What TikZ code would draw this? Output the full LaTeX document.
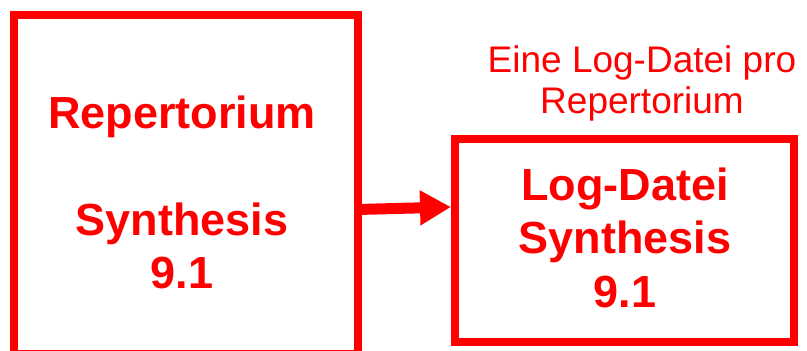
\documentclass[tikz,border=0pt]{standalone}
\usepackage{fontspec}
\setmainfont{Liberation Sans}
\usetikzlibrary{arrows.meta}
\definecolor{pured}{RGB}{255,0,0}
\begin{document}
\begin{tikzpicture}[x=1pt,y=-1pt,
  frame/.style={draw=pured, line width=8pt, inner sep=0pt, outer sep=0pt, rectangle},
  bigtext/.style={text=pured, font=\fontsize{45}{53.3}\selectfont\bfseries, align=center, anchor=base, inner sep=0pt},
  labeltext/.style={text=pured, font=\fontsize{37}{41}\selectfont, align=center, anchor=base, inner sep=0pt},
  conn/.style={draw=pured, line width=11pt, -{Triangle[length=31pt,width=33pt]}}]
\useasboundingbox (0,0) rectangle (807,351);
\node[frame, minimum width=344pt, minimum height=339pt] (lbox) at (186,184.5) {};
\node[frame, minimum width=339pt, minimum height=203pt] (rbox) at (624.5,240.5) {};
\node[bigtext] (ltext) at (182,288.3) {Repertorium\\\mbox{}\\Synthesis\\9.1};
\node[bigtext] (rtext) at (625,307) {Log-Datei\\Synthesis\\9.1};
\node[labeltext] (label) at (642,113) {Eine Log-Datei pro\\Repertorium};
\draw[conn] ([yshift=-25pt]lbox.east) -- ([yshift=33.5pt,xshift=-4pt]rbox.west);
\end{tikzpicture}
\end{document}
